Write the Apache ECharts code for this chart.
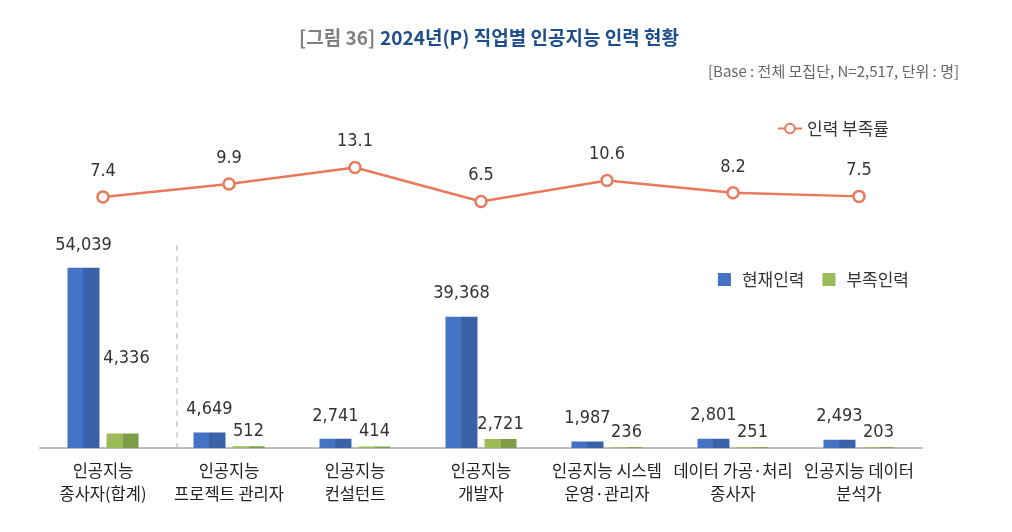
<!DOCTYPE html>
<html><head><meta charset="utf-8">
<script src="https://cdn.jsdelivr.net/npm/echarts@6/dist/echarts.min.js"></script>
<style>html,body{margin:0;padding:0;background:#fff}#c{width:1012px;height:532px}</style>
</head><body><div id="c"></div>
<script>
const categories = ['인공지능\n종사자(합계)','인공지능\n프로젝트 관리자','인공지능\n컨설턴트','인공지능\n개발자','인공지능 시스템\n운영·관리자','데이터 가공·처리\n종사자','인공지능 데이터\n분석가'];
const currentStaff = [54039, 4649, 2741, 39368, 1987, 2801, 2493];
const shortageStaff = [4336, 512, 414, 2721, 236, 251, 203];
const shortageRate = [7.4, 9.9, 13.1, 6.5, 10.6, 8.2, 7.5];

const NUMF = '"DejaVu Sans Condensed","Noto Sans CJK KR",sans-serif';
const KRF = '"Noto Sans CJK KR",sans-serif';
const split = (a,b)=>({type:'linear',x:0,y:0,x2:1,y2:0,colorStops:[{offset:0,color:a},{offset:0.5,color:a},{offset:0.5,color:b},{offset:1,color:b}]});
const fmt = v => v.toLocaleString('en-US');

const chart = echarts.init(document.getElementById('c'));
chart.setOption({
  animation:false,
  title:[
    {text:'{g|[그림 36]} {b|2024년(P) 직업별 인공지능 인력 현황}',left:484,top:23,textAlign:'center',
     textStyle:{rich:{g:{fontFamily:KRF,fontSize:19,color:'#808080'},b:{fontFamily:KRF,fontSize:19,fontWeight:'bold',color:'#1f4e8c'}}}},
    {text:'[Base : 전체 모집단, N=2,517, 단위 : 명]',right:48,top:59,textStyle:{fontFamily:KRF,fontSize:15,fontWeight:'normal',color:'#666'}}
  ],
  legend:[
    {data:['인력 부족률'],right:118,top:115,itemWidth:24,itemHeight:12,textStyle:{fontFamily:KRF,fontSize:17,color:'#333'}},
    {data:[{name:'현재인력',icon:'rect',itemStyle:{color:'#4472c4'}},{name:'부족인력',icon:'rect',itemStyle:{color:'#9bbb59'}}],
     right:98,top:266,itemWidth:13,itemHeight:13,itemGap:18,textStyle:{fontFamily:KRF,fontSize:17,color:'#333',padding:[0,0,0,6]}}
  ],
  grid:[
    {left:40,right:90,top:248,bottom:84},
    {left:40,right:90,top:132,height:103}
  ],
  xAxis:[
    {gridIndex:0,type:'category',data:categories,axisTick:{show:false},
     axisLine:{lineStyle:{color:'#bfbfbf',width:2}},
     axisLabel:{interval:0,fontFamily:KRF,fontSize:16.5,color:'#222',lineHeight:23,margin:11}},
    {gridIndex:1,type:'category',data:categories,show:false}
  ],
  yAxis:[
    {gridIndex:0,type:'value',min:0,max:60000,show:false,splitLine:{show:false}},
    {gridIndex:1,type:'value',min:0,max:20,show:false,splitLine:{show:false}}
  ],
  series:[
    {name:'현재인력',type:'bar',xAxisIndex:0,yAxisIndex:0,data:currentStaff,barWidth:32,barGap:'22%',
     itemStyle:{color:split('#4472c4','#3a62a8')},
     label:{show:true,position:'top',distance:14,formatter:p=>fmt(p.value),fontFamily:NUMF,fontSize:18,color:'#333'}},
    {name:'부족인력',type:'bar',xAxisIndex:0,yAxisIndex:0,barWidth:32,
     data:shortageStaff.map((v,i)=>i===0?{value:v,label:{position:'insideBottom',offset:[4,-75]}}:v),
     itemStyle:{color:split('#9bbb59','#7f9c48')},
     label:{show:true,position:'top',distance:6,formatter:p=>fmt(p.value),fontFamily:NUMF,fontSize:18,color:'#333'}},
    {name:'인력 부족률',type:'line',xAxisIndex:1,yAxisIndex:1,data:shortageRate,
     symbol:'circle',symbolSize:11,lineStyle:{color:'#e8795a',width:2.5},
     itemStyle:{color:'#fff',borderColor:'#e8795a',borderWidth:2.5},
     label:{show:true,position:'top',distance:10,formatter:p=>p.value.toFixed(1),fontFamily:NUMF,fontSize:18,color:'#333'}}
  ],
  graphic:[
    {type:'line',shape:{x1:177,y1:245,x2:177,y2:447},style:{stroke:'#b0b0b0',lineWidth:1,lineDash:[6,5]}}
  ]
});
</script></body></html>
